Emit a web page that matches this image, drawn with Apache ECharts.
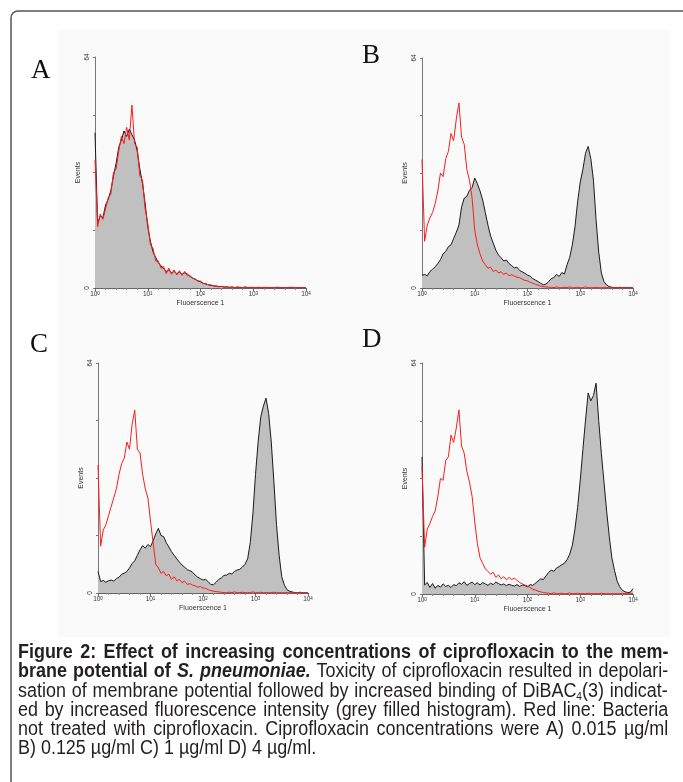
<!DOCTYPE html>
<html><head><meta charset="utf-8">
<script src="https://cdn.jsdelivr.net/npm/echarts@6/dist/echarts.min.js"></script>
<style>
html,body{margin:0;padding:0;background:#fff;}
#chart{position:absolute;left:0;top:0;width:683px;height:782px;}
#cap{position:absolute;left:18px;top:642px;font-family:'Liberation Sans',Arial,sans-serif;font-size:19.5px;line-height:19.3px;color:#231f20;transform-origin:0 0;}
#cap .ln{white-space:nowrap;}
#cap sub{font-size:11px;line-height:0;vertical-align:-3px;}
</style></head><body>
<div id="chart"></div>
<div id="cap">
<div class="ln"><span><b>Figure 2: Effect of increasing concentrations of ciprofloxacin to the mem-</b></span></div>
<div class="ln"><span><b>brane potential of <i>S. pneumoniae.</i></b> Toxicity of ciprofloxacin resulted in depolari-</span></div>
<div class="ln"><span>sation of membrane potential followed by increased binding of DiBAC<sub>4</sub>(3) indicat-</span></div>
<div class="ln"><span>ed by increased fluorescence intensity (grey filled histogram). Red line: Bacteria</span></div>
<div class="ln"><span>not treated with ciprofloxacin. Ciprofloxacin concentrations were A) 0.015 µg/ml</span></div>
<div class="ln last"><span>B) 0.125 µg/ml C) 1 µg/ml D) 4 µg/ml.</span></div>
</div>
<script>
// log10 fluorescence channel positions (decades)
const channels = [0,0.05,0.1,0.15,0.2,0.25,0.3,0.35,0.4,0.45,0.5,0.55,0.6,0.65,0.7,0.75,0.8,0.85,0.9,0.95,1,1.05,1.1,1.15,1.2,1.25,1.3,1.35,1.4,1.45,1.5,1.55,1.6,1.65,1.7,1.75,1.8,1.85,1.9,1.95,2,2.05,2.1,2.15,2.2,2.25,2.3,2.35,2.4,2.45,2.5,2.55,2.6,2.65,2.7,2.75,2.8,2.85,2.9,2.95,3,3.05,3.1,3.15,3.2,3.25,3.3,3.35,3.4,3.45,3.5,3.55,3.6,3.65,3.7,3.75,3.8,3.85,3.9,3.95,4];
const decadeTicks = [0,1,2,3,4];
const panelLetters = ['A','B','C','D'];

const treatedA = [43,18,20,19.5,23,24.5,27,31,34.5,39,41,
43.5,42,44,42.5,41,38,33,29,23.5,17,
13,10,8.5,7,6.2,5.3,4.6,5,4.2,4.6,
4,4.4,3.8,4.2,3.9,3.2,2.8,2.4,2,1.7,
1.3,1.1,0.9,0.7,0.6,0.5,0.4,0.4,0.3,0.3,
0.2,0.3,0.1,0.2,0.2,0.1,0.3,0.1,0.2,0.1,0.1,0.2,0.1,0.1,0.2,0.1,0.1,0.1,0.2,0.1,0.1,0.1,0.1,0.2,0.1,0.1,0.1,0.1,0.1,0.1];
const controlA = [35.5,17,20.5,19,22,25,26,32,33,38,42,
40,44.5,41,50.7,40,39,31,30,22,18,
12,11,7.5,7.5,5.5,6,4,5.5,3.8,5,
3.6,4.8,3.5,4.6,3.4,3.5,2.6,2.6,1.8,2,
1.2,1.3,0.8,0.9,0.5,0.6,0.3,0.5,0.2,0.3,
0.1,0.2,0.1,0.3,0.1,0.1,0.2,0.1,0.1,0.2,0.1,0.1,0.1,0.2,0.1,0.1,0.1,0.1,0.2,0.1,0.1,0.1,0.1,0.1,0.2,0.1,0.1,0.1,0.1,0.1];

const treatedB = [3.5,3.8,3.4,4.6,5.2,5.9,6.8,7.9,9.5,10.2,11.5,
12,13.8,15.5,17.5,22.5,25,25.5,27.2,28,30.6,
29,27,24.5,21,17.5,14.5,12.5,10.5,9.2,8.4,
7.5,7.8,6.8,6.2,5.6,5.8,4.9,4.5,4.1,3.6,
3.3,2.6,2.2,1.8,1.3,0.9,1.1,1.8,2.6,2.9,
3.8,3.2,4.3,3.9,6.5,8.5,12,17,24,29.5,
33,37.5,39.4,36,30,19,10,4.2,1.8,0.8,
0.4,0.2,0.1,0.1,0.2,0.1,0.1,0.1,0.1,0.1];
const controlB = [35.7,13,17.5,19.5,21,23.5,27,32,31,36,38,
43,41,47,51.5,42,40,33,30,25,16,
12,9.5,7.5,6.5,5.5,5.8,4.6,5,4.2,4.5,
3.8,4.2,3.4,3.7,3.3,3,2.9,2.5,2.1,2,
1.6,1.3,1,0.8,0.5,0.4,0.3,0.2,0.2,0.1,
0.3,0.1,0.1,0.2,0.1,0.3,0.1,0.1,0.2,0.1,0.1,0.3,0.1,0.1,0.1,0.2,0.1,0.1,0.1,0.1,0.2,0.1,0.1,0.1,0.1,0.1,0.1,0.1,0.1,0.1];

const treatedC = [6,3.2,3.5,3,3.4,3.6,3.3,4,4.4,5.2,5.5,
6,7,8.2,9,10.5,12,13.2,12.5,13.5,12.9,
14.5,16.5,18,16,15.7,14,12.8,11.5,10.5,9.5,
8.6,7.8,7.2,6.5,6.2,5.8,5,4.4,4,3.6,
3.8,3.1,2.4,2.3,3,3.8,4.2,4.9,5,5.5,
5.3,6,6.4,6.6,7.2,8,9.5,14,22,33,
42,49,52,54.2,50,42,31,19,10.5,4.5,
2.2,0.9,0.5,0.3,0.1,0.1,0.2,0.1,0.1,0.1];
const controlC = [35.6,13,17.5,19,21.5,24,26.5,29,33,36,37.5,
42,40,47,50.9,40,39,33,29,26.5,20,
14,8,7,5.5,6,4.8,5.2,3.8,4.5,3.4,
3.8,2.9,3.3,2.4,2.6,2.2,2,1.6,1.8,1.4,
1.3,0.9,0.7,0.5,0.4,0.3,0.2,0.1,0.1,0.2,
0.1,0.3,0.1,0.1,0.2,0.1,0.1,0.1,0.3,0.1,0.1,0.2,0.1,0.1,0.1,0.1,0.2,0.1,0.1,0.1,0.1,0.1,0.1,0.1,0.1,0.1,0.1,0.1,0.1,0.1];

const treatedD = [38,2.5,3.2,1.8,2.9,1.6,2.4,1.9,2.8,2.1,2.4,
1.8,2.6,2.3,3.1,2.7,3.4,2.4,2.9,3.3,2.6,
3.1,2.5,3.2,2.8,2.4,3,2.6,3.3,2.9,2.5,
2.8,2.3,2.7,2.4,2.2,2.6,2.1,2.5,2.3,2,
2.6,2.4,3,3.6,4.2,4,5,6,6.6,6.3,
7.2,7.6,8.1,8.5,9.5,11,13.5,18,24,31.6,
40,48.2,55.7,53.5,55,58.4,48,39,31,23,
16,10,6.5,3.5,2,1,0.6,0.4,0.5,1.5];
const controlD = [35.3,13,18,19.5,21.5,23,27,32,31.5,37,38,
44,42,46,51,41,39,34,31,27,20,
14,10,8.5,7,6.2,5.5,6,4.6,5.3,4.2,
4.8,3.9,4.6,4,4.4,3.8,3.2,2.8,2.5,2.2,
1.8,1.3,1.1,0.8,0.6,0.4,0.3,0.2,0.1,0.3,
0.1,0.1,0.2,0.1,0.1,0.3,0.1,0.1,0.2,0.1,0.1,0.1,0.2,0.1,0.1,0.1,0.1,0.2,0.1,0.1,0.1,0.1,0.1,0.1,0.1,0.1,0.1,0.1,0.1,0.1];

const treated = [treatedA, treatedB, treatedC, treatedD];
const control = [controlA, controlB, controlC, controlD];

// caption: condensed, fully justified lines
(function(){
  const capScale = 0.92, capWidth = 650;
  const cap = document.getElementById('cap');
  cap.style.transform = 'scaleX(' + capScale + ')';
  cap.querySelectorAll('.ln').forEach(ln=>{
    if (ln.classList.contains('last')) return;
    const sp = ln.firstElementChild;
    const natural = sp.offsetWidth;
    const nSpaces = (sp.textContent.match(/ /g) || []).length;
    const extra = capWidth / capScale - natural;
    if (nSpaces > 0) sp.style.wordSpacing = (extra / nSpaces) + 'px';
  });
})();

const grids = [
  {left:95, top:57, width:211, height:231},
  {left:422, top:58, width:211, height:230},
  {left:98, top:363, width:210, height:230},
  {left:422, top:363, width:211, height:231}
];
const letterPos = [[31,84],[362,69],[30,358],[362,353]];

const FONT = 'Liberation Sans, Arial, sans-serif';
const pair = arr => channels.map((c,i)=>[c, arr[i]]);

const xAxes = grids.map((g,i)=>({
  type:'value', gridIndex:i, min:0, max:4, interval:1,
  name:'Fluoerscence 1', nameLocation:'middle', nameGap:12,
  nameTextStyle:{fontSize:7, color:'#333', fontFamily:FONT},
  axisLine:{show:true, onZero:false, lineStyle:{color:'#666', width:1}},
  axisTick:{show:true, length:3, lineStyle:{color:'#666'}},
  minorTick:{show:true, splitNumber:5, length:2, lineStyle:{color:'#888'}},
  splitLine:{show:false},
  axisLabel:{margin:3, color:'#333', fontFamily:FONT,
    formatter: v => decadeTicks.indexOf(v) >= 0 ? '{b|10}{s|' + v + '}' : '',
    rich:{b:{fontSize:6.5, color:'#333', fontFamily:FONT}, s:{fontSize:4.5, color:'#333', fontFamily:FONT, verticalAlign:'top'}}}
}));
const yAxes = grids.map((g,i)=>({
  type:'value', gridIndex:i, min:0, max:64, interval:16,
  name:'Events', nameLocation:'middle', nameGap:13,
  nameTextStyle:{fontSize:7, color:'#333', fontFamily:FONT},
  axisLine:{show:true, lineStyle:{color:'#777', width:1}},
  axisTick:{show:true, length:2, lineStyle:{color:'#777'}},
  splitLine:{show:false},
  axisLabel:{rotate:90, fontSize:6.5, margin:4, color:'#333', fontFamily:FONT,
    formatter: v => (v === 0 || v === 64) ? String(v) : ''}
}));

const series = [];
grids.forEach((g,i)=>{
  series.push({type:'line', xAxisIndex:i, yAxisIndex:i, data:pair(treated[i]), symbol:'none', z:2,
    lineStyle:{color:'#1a1a1a', width:1}, areaStyle:{color:'#c0c0c0', opacity:1}});
  series.push({type:'line', xAxisIndex:i, yAxisIndex:i, data:pair(control[i]), symbol:'none', z:3,
    lineStyle:{color:'#ff1a1a', width:1}});
});

const graphic = [
  {type:'rect', z:-10, silent:true, shape:{x:58, y:30, width:612, height:607}, style:{fill:'#fafafa'}},
  {type:'rect', z:-9, silent:true, shape:{x:11, y:11, width:720, height:820, r:7}, style:{fill:'rgba(0,0,0,0)', stroke:'#555', lineWidth:1.5}}
];
panelLetters.forEach((L,i)=>{
  graphic.push({type:'text', z:10, style:{text:L, x:letterPos[i][0], y:letterPos[i][1], fill:'#111',
    font:'27px "Liberation Serif", "Times New Roman", serif', textVerticalAlign:'bottom', verticalAlign:'bottom'}});
});

const chart = echarts.init(document.getElementById('chart'), null, {renderer:'canvas'});
chart.setOption({
  animation:false,
  backgroundColor:'transparent',
  grid: grids.map(g=>Object.assign({outerBoundsMode:'none', containLabel:false}, g)),
  xAxis: xAxes,
  yAxis: yAxes,
  series: series,
  graphic: graphic
});
</script>
</body></html>
